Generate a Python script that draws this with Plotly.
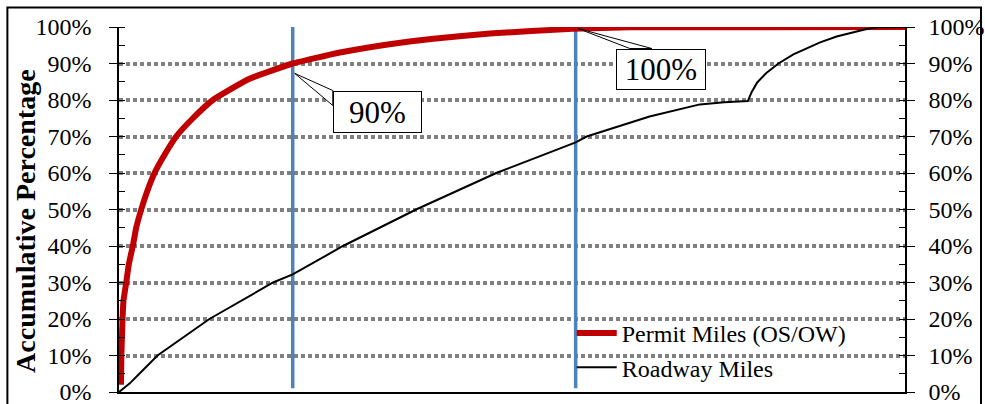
import plotly.graph_objects as go

# Share of total length (%), along the horizontal axis
permit_x = [0.25, 0.3, 0.45, 0.57, 0.92, 1.25, 1.76, 2.19, 2.83, 3.59, 4.52, 5.8, 7.28, 9.4,
            11.94, 16.6, 22.1, 28.1, 34.4, 40.0, 47.2, 57.7, 65.0, 100.0]
# Accumulative percentage of permit miles (OS/OW)
permit_y = [2, 10, 20, 25, 30, 35, 40, 45, 50, 55, 60, 65, 70, 75,
            80, 85.8, 90, 93.0, 95.3, 96.8, 98.2, 99.5, 99.9, 100]

roadway_x = [0, 1.34, 3.0, 4.9, 11.5, 19.6, 22.1, 28.5, 37.8, 48.0, 58.1, 59.5, 67.5,
             73.9, 77.0, 80.0, 80.5, 81.2, 82.4, 83.9, 85.8, 87.6, 89.2, 91.3, 93.4,
             95.0, 96.4, 98.0, 100]
roadway_y = [0, 2.3, 5.9, 10, 20, 30, 32.2, 40, 50, 60, 68.4, 70, 75.5,
             78.8, 79.4, 79.7, 82.2, 84.8, 87.5, 90, 92.5, 94.3, 95.8, 97.4, 98.6,
             99.4, 99.9, 100, 100]

# Reference markers: where permit miles reach 90% and 100%
marker_x = [22.1, 58.1]
marker_y = [90, 100]
marker_labels = ["90%", "100%"]

tick_vals = list(range(0, 101, 10))
tick_text = [f"{v}%" for v in tick_vals]

SERIF = "Liberation Serif"
GRID = "#808080"

fig = go.Figure()

for mx in marker_x:
    fig.add_trace(go.Scatter(x=[mx, mx], y=[1, 101], mode="lines",
                             line=dict(color="#4F81BD", width=3.5),
                             showlegend=False, hoverinfo="skip", cliponaxis=False))

fig.add_trace(go.Scatter(x=permit_x, y=permit_y, mode="lines", name="Permit Miles (OS/OW)",
                         line=dict(color="#C00000", width=6, shape="spline", smoothing=0.4),
                         cliponaxis=False))
fig.add_trace(go.Scatter(x=roadway_x, y=roadway_y, mode="lines", name="Roadway Miles",
                         line=dict(color="black", width=2), yaxis="y2", cliponaxis=False))

axis_common = dict(range=[0, 100], tickvals=tick_vals, ticktext=tick_text,
                   tickfont=dict(family=SERIF, size=24, color="black"),
                   showline=True, linecolor="black", linewidth=1.5,
                   ticks="outside", ticklen=8, tickwidth=1.2, tickcolor="black",
                   minor=dict(dtick=5, ticks="inside", ticklen=6, tickcolor="black", tickwidth=1.2,
                              showgrid=False),
                   zeroline=False, fixedrange=True, automargin=False,
                   ticklabeloverflow="allow")

fig.update_layout(
    width=985, height=404,
    margin=dict(l=119, r=80, t=27, b=12),
    paper_bgcolor="white", plot_bgcolor="white",
    showlegend=True,
    legend=dict(x=0.576, y=0.222, xanchor="left", yanchor="top",
                font=dict(family=SERIF, size=24, color="black"),
                bgcolor="rgba(0,0,0,0)", tracegroupgap=0, itemwidth=40),
    xaxis=dict(range=[0, 100], showticklabels=False, ticks="", showgrid=False,
               showline=True, linecolor="black", linewidth=1.5, zeroline=False,
               fixedrange=True, automargin=False),
    yaxis=dict(**axis_common, showgrid=True, gridcolor=GRID, gridwidth=3.5, griddash="4px,3px",
               ticklabelstandoff=13),
    yaxis2=dict(**axis_common, overlaying="y", side="right", showgrid=False, ticklabelstandoff=9),
)

# Y-axis title
fig.add_annotation(text="<b>Accumulative Percentage</b>", textangle=-90,
                   xref="paper", yref="paper", x=-0.119, y=0.47, xanchor="center", yanchor="middle",
                   showarrow=False, font=dict(family=SERIF, size=28, color="black"))

# Callout boxes with wedge pointers, positioned relative to each marker
callouts = [
    dict(apex=(0.25, -2.7), base=[(5.1, -7.4), (5.1, -11.5)], center=(10.75, -13.3), w=85, h=38),
    dict(apex=(0.27, -0.4), base=[(6.9, -5.9), (9.7, -5.9)], center=(10.9, -11.6), w=86, h=37),
]
for mx, my, label, c in zip(marker_x, marker_y, marker_labels, callouts):
    ax, ay = mx + c["apex"][0], my + c["apex"][1]
    (b1x, b1y), (b2x, b2y) = [(mx + dx, my + dy) for dx, dy in c["base"]]
    fig.add_shape(type="path", xref="x", yref="y",
                  path=f"M{ax},{ay} L{b1x},{b1y} L{b2x},{b2y} Z",
                  fillcolor="white", line=dict(color="black", width=1), layer="above")
    fig.add_annotation(text=label, xref="x", yref="y",
                       x=mx + c["center"][0], y=my + c["center"][1],
                       showarrow=False, width=c["w"], height=c["h"],
                       bgcolor="white", bordercolor="black", borderwidth=1, borderpad=1,
                       font=dict(family=SERIF, size=31, color="black"))

# Outer frame around the whole chart
fig.add_shape(type="rect", xref="paper", yref="paper",
              x0=-0.142, x1=1.0967, y0=-0.06, y1=1.0534,
              line=dict(color="black", width=2), fillcolor="rgba(0,0,0,0)", layer="above")

fig.write_html("out.html")
